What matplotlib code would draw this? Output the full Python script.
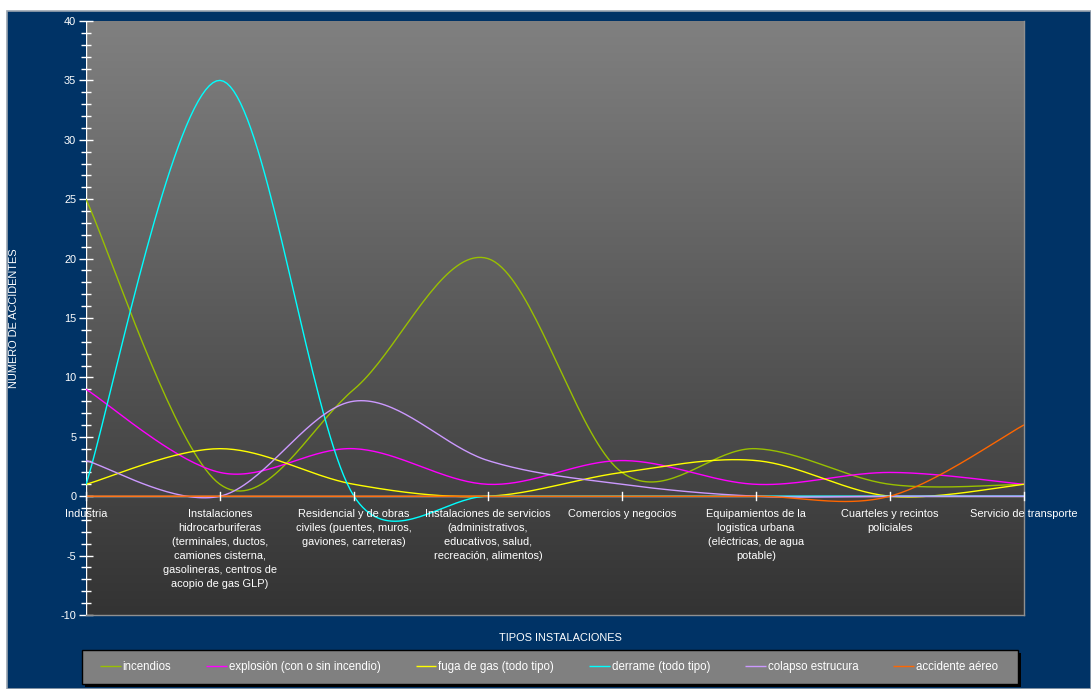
import numpy as np
import matplotlib
matplotlib.use("Agg")
import matplotlib.pyplot as plt
from matplotlib.patches import Rectangle

plt.rcParams["axes.unicode_minus"] = False

# Data
CATEGORIES = [
    "Industria",
    "Instalaciones\nhidrocarburiferas\n(terminales, ductos,\ncamiones cisterna,\ngasolineras, centros de\nacopio de gas GLP)",
    "Residencial y de obras\nciviles (puentes, muros,\ngaviones, carreteras)",
    "Instalaciones de servicios\n(administrativos,\neducativos, salud,\nrecreación, alimentos)",
    "Comercios y negocios",
    "Equipamientos de la\nlogistica urbana\n(eléctricas, de agua\npotable)",
    "Cuarteles y recintos\npoliciales",
    "Servicio de transporte",
]
incendios = [25, 1, 9, 20, 2, 4, 1, 1]
explosion = [9, 2, 4, 1, 3, 1, 2, 1]
fuga_gas = [1, 4, 1, 0, 2, 3, 0, 1]
derrame = [1, 35, 0, 0, 0, 0, 0, 0]
colapso = [3, 0, 8, 3, 1, 0, 0, 0]
accidente_aereo = [0, 0, 0, 0, 0, 0, 0, 6]

SERIES = [
    ("incendios", incendios, "#99c000"),
    ("explosiòn (con o sin incendio)", explosion, "#ff00ff"),
    ("fuga de gas (todo tipo)", fuga_gas, "#ffff00"),
    ("derrame (todo tipo)", derrame, "#00ffff"),
    ("colapso estrucura", colapso, "#cc99ff"),
    ("accidente aéreo", accidente_aereo, "#ff6600"),
]

W, H = 1091, 689
NAVY = "#003366"
FONT = "Liberation Sans"
FS = 7.9

# pixel scale of one category step and one y unit (for the Excel-like smoothing)
SX, SY = 134.0, 11.88


def excel_smooth(y, n=40):
    """Bezier smoothing through the points, like Excel's 'smoothed line'."""
    pts = np.column_stack([np.arange(len(y)) * SX, np.asarray(y, float) * SY])
    xs, ys = [], []
    for i in range(len(pts) - 1):
        p0 = pts[max(i - 1, 0)]
        p1 = pts[i]
        p2 = pts[i + 1]
        p3 = pts[min(i + 2, len(pts) - 1)]
        d12 = np.linalg.norm(p2 - p1)
        d02 = np.linalg.norm(p2 - p0)
        d13 = np.linalg.norm(p3 - p1)
        f1 = 1 / 6 if d02 / 6 <= d12 / 2 else d12 / (2 * d02)
        f2 = 1 / 6 if d13 / 6 <= d12 / 2 else d12 / (2 * d13)
        c1 = p1 + (p2 - p0) * f1
        c2 = p2 - (p3 - p1) * f2
        t = np.linspace(0, 1, n)[:, None]
        b = (1 - t) ** 3 * p1 + 3 * (1 - t) ** 2 * t * c1 + 3 * (1 - t) * t ** 2 * c2 + t ** 3 * p2
        xs.append(b[:, 0])
        ys.append(b[:, 1])
    return np.concatenate(xs) / SX, np.concatenate(ys) / SY


fig = plt.figure(figsize=(W / 100, H / 100), dpi=100)
fig.patch.set_facecolor("white")
# navy chart area, offset from top-left like the original
fig.patches.append(Rectangle((7 / W, 0), 1 - 7 / W, 1 - 11 / H, transform=fig.transFigure,
                             facecolor=NAVY, edgecolor="#9aa4b0", linewidth=1.2, zorder=-5))

left, right, top, bottom = 86, 1024, 21, 615
ax = fig.add_axes([left / W, 1 - bottom / H, (right - left) / W, (bottom - top) / H])
ax.set_facecolor("none")
ax.set_zorder(1)

n = len(CATEGORIES)
ax.set_xlim(0, n - 1)
ax.set_ylim(-10, 40)

# gradient background
grad = np.linspace(0, 1, 256)[:, None]
cmap = matplotlib.colors.LinearSegmentedColormap.from_list("g", ["#808080", "#333333"])
ax.imshow(grad, extent=(0, n - 1, -10, 40), aspect="auto", cmap=cmap, zorder=0,
          origin="upper")

for label, vals, color in SERIES:
    sx, sy = excel_smooth(vals)
    ax.plot(sx, sy, color=color, lw=1.0, label=label, zorder=3, solid_capstyle="butt")

# spines
for s in ["top", "left"]:
    ax.spines[s].set_visible(False)
for s in ["right", "bottom"]:
    ax.spines[s].set_color("#909090")
    ax.spines[s].set_linewidth(1.0)
ax.axvline(0, color="white", lw=1.0, zorder=2)
ax.axhline(0, color="white", lw=1.0, zorder=2)

ax.set_yticks(np.arange(-10, 41, 5))
ax.set_yticks(np.arange(-10, 41, 1), minor=True)
ax.tick_params(axis="y", which="major", direction="inout", length=10, width=1.0, color="white",
               labelcolor="white", labelsize=FS, pad=2)
ax.tick_params(axis="y", which="minor", direction="inout", length=7, width=1.0, color="white")
for lab in ax.get_yticklabels():
    lab.set_fontfamily(FONT)

ax.set_xticks([])
for i, cat in enumerate(CATEGORIES):
    ax.plot([i, i], [-0.35, 0.35], color="white", lw=1.0, zorder=4, clip_on=False)
    ax.text(i, -1.05, cat, ha="center", va="top", color="white", fontsize=FS,
            fontfamily=FONT, linespacing=1.5, zorder=5)

fig.text(14 / W, 1 - 318 / H, "NUMERO DE ACCIDENTES", rotation=90, ha="center", va="center",
         color="white", fontsize=FS, fontfamily=FONT)
fig.text(560 / W, 1 - 638 / H, "TIPOS INSTALACIONES", ha="center", va="center",
         color="white", fontsize=FS, fontfamily=FONT)

# legend box with shadow
lx0, lx1, ly0, ly1 = 82, 1018, 650, 684
fig.patches.append(Rectangle(((lx0 + 3) / W, 1 - (ly1 + 3) / H), (lx1 - lx0) / W, (ly1 - ly0) / H,
                             transform=fig.transFigure, facecolor="black", edgecolor="none", zorder=2))
fig.patches.append(Rectangle((lx0 / W, 1 - ly1 / H), (lx1 - lx0) / W, (ly1 - ly0) / H,
                             transform=fig.transFigure, facecolor="#808080", edgecolor="black",
                             linewidth=1.0, zorder=3))
handles, labels = ax.get_legend_handles_labels()
leg = fig.legend(handles, labels, loc="center left", bbox_to_anchor=(100 / W, 1 - 667 / H),
                 ncol=6, frameon=False, handlelength=1.8, handletextpad=0.15,
                 columnspacing=3.05, borderaxespad=0, borderpad=0,
                 prop={"family": FONT, "size": 8.3})
for t in leg.get_texts():
    t.set_color("white")
leg.set_zorder(5)

fig.savefig("out.png", dpi=100, facecolor=fig.get_facecolor())
